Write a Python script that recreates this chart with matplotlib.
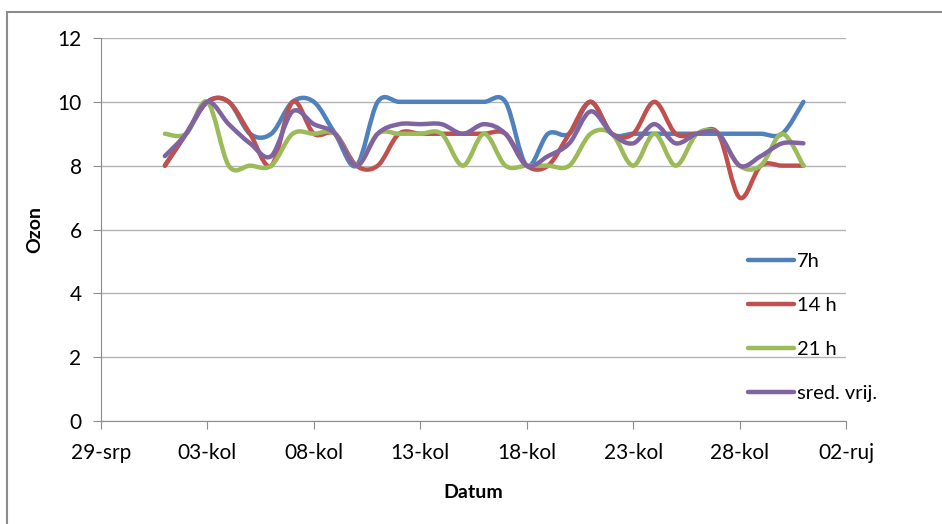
import matplotlib
matplotlib.use("Agg")
import matplotlib.pyplot as plt
import matplotlib.dates as mdates
from matplotlib.path import Path
from matplotlib.patches import PathPatch, Rectangle
from matplotlib.lines import Line2D
import pandas as pd

plt.rcParams["font.family"] = ["Lato", "DejaVu Sans"]

# Ozon, kolovoz - dnevna mjerenja
datumi = pd.date_range("2011-08-01", "2011-08-31", freq="D")
h7 = [8, 9, 10, 10, 9, 9, 10, 10, 9, 8, 10, 10, 10, 10, 10, 10, 10, 8, 9, 9,
      10, 9, 9, 9, 9, 9, 9, 9, 9, 9, 10]
h14 = [8, 9, 10, 10, 9, 8, 10, 9, 9, 8, 8, 9, 9, 9, 9, 9, 9, 8, 8, 9,
       10, 9, 9, 10, 9, 9, 9, 7, 8, 8, 8]
h21 = [9, 9, 10, 8, 8, 8, 9, 9, 9, 8, 9, 9, 9, 9, 8, 9, 8, 8, 8, 8,
       9, 9, 8, 9, 8, 9, 9, 8, 8, 9, 8]
sred = [8.3, 9.0, 10.0, 9.3, 8.7, 8.3, 9.7, 9.3, 9.0, 8.0, 9.0, 9.3, 9.3, 9.3,
        9.0, 9.3, 9.0, 8.0, 8.3, 8.7, 9.7, 9.0, 8.7, 9.3, 8.7, 9.0, 9.0, 8.0,
        8.3, 8.7, 8.7]

serije = [("7h", h7, "#4F81BD"), ("14 h", h14, "#C0504D"),
          ("21 h", h21, "#9BBB59"), ("sred. vrij.", sred, "#8064A2")]

mjeseci = {7: "srp", 8: "kol", 9: "ruj"}


def glatka_putanja(xs, ys):
    """Excel-style smoothed line (Catmull-Rom kao Bezier)."""
    pts = list(zip(xs, ys))
    verts = [pts[0]]
    codes = [Path.MOVETO]
    n = len(pts)
    for i in range(n - 1):
        p0 = pts[i - 1] if i > 0 else pts[i]
        p1 = pts[i]
        p2 = pts[i + 1]
        p3 = pts[i + 2] if i + 2 < n else pts[i + 1]
        c1 = (p1[0] + (p2[0] - p0[0]) / 6, p1[1] + (p2[1] - p0[1]) / 6)
        c2 = (p2[0] - (p3[0] - p1[0]) / 6, p2[1] - (p3[1] - p1[1]) / 6)
        verts += [c1, c2, p2]
        codes += [Path.CURVE4] * 3
    return Path(verts, codes)


fig = plt.figure(figsize=(9.42, 5.24), dpi=100)
fig.patches.append(Rectangle((7 / 942, -0.1), 1.1, (512 / 524) + 0.1,
                             transform=fig.transFigure, fill=False,
                             edgecolor="#8c8c8c", lw=1.5))
ax = fig.add_axes([101 / 942, 103 / 524, 745 / 942, 383 / 524])

x = mdates.date2num(datumi)
for naziv, vrijednosti, boja in serije:
    ax.add_patch(PathPatch(glatka_putanja(x, vrijednosti), fill=False,
                           edgecolor=boja, lw=3.2, capstyle="round",
                           joinstyle="round", zorder=3))

ax.set_xlim(pd.Timestamp("2011-07-29"), pd.Timestamp("2011-09-02"))
ax.set_ylim(0, 12)
ax.set_yticks(range(0, 13, 2))
ax.set_xticks(pd.date_range("2011-07-29", "2011-09-02", freq="5D"))
ax.xaxis.set_major_formatter(plt.FuncFormatter(
    lambda v, pos: f"{mdates.num2date(v).day:02d}-{mjeseci[mdates.num2date(v).month]}"))

ax.grid(axis="y", color="#b3b3b3", lw=1)
ax.set_axisbelow(True)
for s in ["top", "right"]:
    ax.spines[s].set_visible(False)
for s in ["left", "bottom"]:
    ax.spines[s].set_color("#8c8c8c")
ax.tick_params(axis="both", colors="#8c8c8c", labelcolor="black",
               labelsize=15, length=6, direction="out")
ax.tick_params(axis="x", pad=10)
ax.tick_params(axis="y", pad=8)

ax.set_ylabel("Ozon", fontsize=14, fontweight="bold", labelpad=10)
ax.set_xlabel("Datum", fontsize=14, fontweight="bold", labelpad=15)

rucke = [Line2D([], [], color=b, lw=3.2, solid_capstyle="round") for _, _, b in serije]
ax.legend(rucke, [n for n, _, _ in serije], loc="upper left",
          bbox_to_anchor=(0.868, 0.44), frameon=False, fontsize=14.5,
          handlelength=2.3, handletextpad=0.15, labelspacing=1.35,
          borderpad=0, borderaxespad=0)

fig.savefig("out.png", dpi=100)
